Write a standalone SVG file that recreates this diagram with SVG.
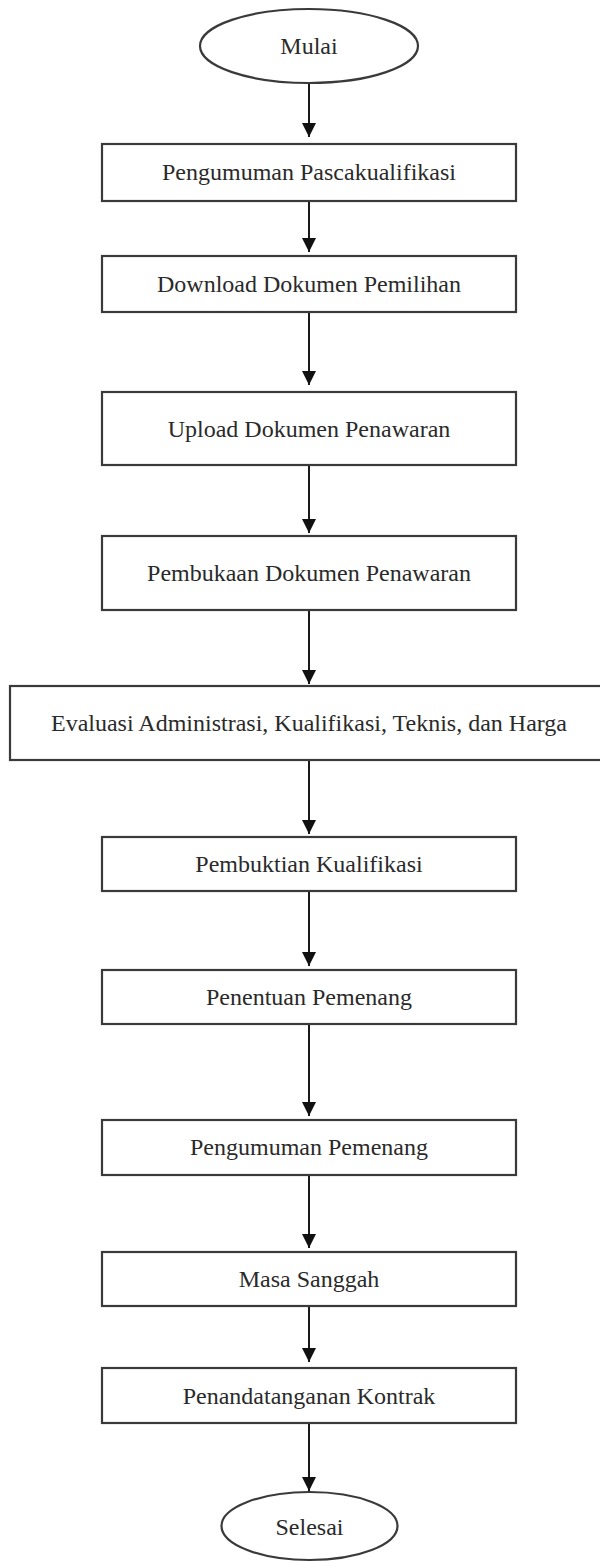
<svg xmlns="http://www.w3.org/2000/svg" width="600" height="1562" viewBox="0 0 600 1562">
<style>
.box{fill:#fff;stroke:#3a3a3a;stroke-width:2.2}
.lbl{font-family:"Liberation Serif","Times New Roman",serif;font-size:24px;fill:#2a2a2a;text-anchor:middle}
.con{stroke:#1a1a1a;stroke-width:2;fill:none;marker-end:url(#arr)}
</style>
<defs>
<marker id="arr" markerUnits="userSpaceOnUse" markerWidth="14" markerHeight="14" refX="14" refY="7" orient="auto">
<path d="M0,0 L14,7 L0,14 z" fill="#111"/>
</marker>
</defs>
<rect width="600" height="1562" fill="#fff"/>
<g id="connectors">
<line class="con" x1="309" y1="83" x2="309" y2="137"/>
<line class="con" x1="309" y1="201" x2="309" y2="252"/>
<line class="con" x1="309" y1="312" x2="309" y2="385"/>
<line class="con" x1="309" y1="465" x2="309" y2="533"/>
<line class="con" x1="309" y1="610" x2="309" y2="684"/>
<line class="con" x1="309" y1="760" x2="309" y2="834"/>
<line class="con" x1="309" y1="891" x2="309" y2="966"/>
<line class="con" x1="309" y1="1024" x2="309" y2="1116"/>
<line class="con" x1="309" y1="1175" x2="309" y2="1248"/>
<line class="con" x1="309" y1="1306" x2="309" y2="1362"/>
<line class="con" x1="309" y1="1423" x2="309" y2="1491"/>
</g>
<g id="start">
<ellipse class="box" cx="309" cy="46" rx="109" ry="37"/>
<text class="lbl" x="309" y="54">Mulai</text>
</g>
<g id="n1">
<rect class="box" x="102" y="144" width="414" height="57"/>
<text class="lbl" x="309" y="180">Pengumuman Pascakualifikasi</text>
</g>
<g id="n2">
<rect class="box" x="102" y="256" width="414" height="56"/>
<text class="lbl" x="309" y="292">Download Dokumen Pemilihan</text>
</g>
<g id="n3">
<rect class="box" x="102" y="392" width="414" height="73"/>
<text class="lbl" x="309" y="437">Upload Dokumen Penawaran</text>
</g>
<g id="n4">
<rect class="box" x="102" y="536" width="414" height="74"/>
<text class="lbl" x="309" y="581">Pembukaan Dokumen Penawaran</text>
</g>
<g id="n5">
<rect class="box" x="10" y="686" width="600" height="74"/>
<text class="lbl" x="309" y="731">Evaluasi Administrasi, Kualifikasi, Teknis, dan Harga</text>
</g>
<g id="n6">
<rect class="box" x="102" y="837" width="414" height="54"/>
<text class="lbl" x="309" y="872">Pembuktian Kualifikasi</text>
</g>
<g id="n7">
<rect class="box" x="102" y="970" width="414" height="54"/>
<text class="lbl" x="309" y="1005">Penentuan Pemenang</text>
</g>
<g id="n8">
<rect class="box" x="102" y="1120" width="414" height="55"/>
<text class="lbl" x="309" y="1155">Pengumuman Pemenang</text>
</g>
<g id="n9">
<rect class="box" x="102" y="1252" width="414" height="54"/>
<text class="lbl" x="309" y="1287">Masa Sanggah</text>
</g>
<g id="n10">
<rect class="box" x="102" y="1368" width="414" height="55"/>
<text class="lbl" x="309" y="1404">Penandatanganan Kontrak</text>
</g>
<g id="end">
<ellipse class="box" cx="309.5" cy="1526" rx="88" ry="34"/>
<text class="lbl" x="309.5" y="1535">Selesai</text>
</g>
</svg>
